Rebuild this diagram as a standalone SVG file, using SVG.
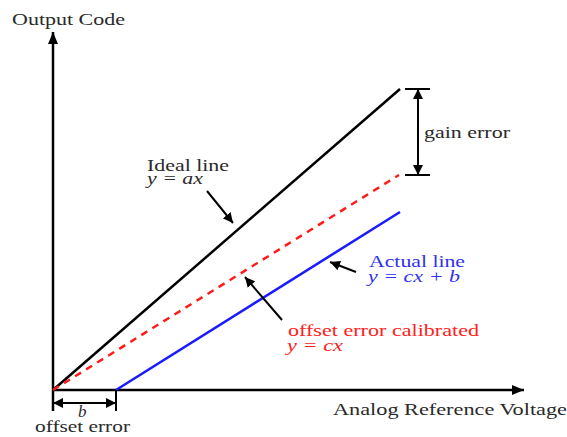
<svg xmlns="http://www.w3.org/2000/svg" width="567" height="437" viewBox="0 0 567 437">
<style>
text{font-family:"Liberation Serif","Times New Roman",serif;font-size:17px;fill:#2a2a2a}
.it{font-style:italic}
.blue{fill:#3030f0}
.red{fill:#ff2020}
.ln{fill:none;stroke:#000;stroke-width:2.5}
.thin{fill:none;stroke:#000;stroke-width:2}
</style>
<defs>
<marker id="ah" viewBox="0 0 10 10" refX="10" refY="5" markerWidth="10" markerHeight="10" markerUnits="userSpaceOnUse" orient="auto-start-reverse">
<path d="M0,0 L10,5 L0,10 Z" fill="#000"/>
</marker>
<marker id="ax" viewBox="0 0 12 10" refX="12" refY="5" markerWidth="12" markerHeight="10" markerUnits="userSpaceOnUse" orient="auto">
<path d="M0,0 L12,5 L0,10 Z" fill="#000"/>
</marker>
</defs>
<g id="connectors">
<line id="y-axis" class="ln" x1="53" y1="411" x2="53" y2="32" marker-end="url(#ax)"/>
<line id="x-axis" class="ln" x1="53" y1="390" x2="524" y2="390" marker-end="url(#ax)"/>
<line id="ideal" class="ln" x1="53" y1="390" x2="400" y2="89"/>
<line id="calibrated" fill="none" stroke="#ff1a1a" stroke-width="2.5" stroke-dasharray="7,6" x1="53" y1="390" x2="399" y2="175"/>
<line id="actual" fill="none" stroke="#1a1aff" stroke-width="2.5" x1="116" y1="390" x2="400" y2="212"/>
<line class="thin" x1="405" y1="89" x2="430" y2="89"/>
<line class="thin" x1="405" y1="175" x2="430" y2="175"/>
<line class="thin" x1="418" y1="89" x2="418" y2="175" marker-start="url(#ah)" marker-end="url(#ah)"/>
<line class="thin" x1="116" y1="390" x2="116" y2="411"/>
<line class="thin" x1="53" y1="403" x2="116" y2="403" marker-start="url(#ah)" marker-end="url(#ah)"/>
<line class="thin" x1="207" y1="191" x2="233" y2="223" marker-end="url(#ah)"/>
<line class="thin" x1="356" y1="272" x2="330" y2="262" marker-end="url(#ah)"/>
<line class="thin" x1="282" y1="320" x2="245" y2="277" marker-end="url(#ah)"/>
</g>
<g id="label-output-code"><text x="12" y="25" textLength="113" lengthAdjust="spacingAndGlyphs">Output Code</text></g>
<g id="label-ideal"><text x="147" y="171" textLength="82" lengthAdjust="spacingAndGlyphs">Ideal line</text>
<text class="it" x="147" y="184" textLength="56" lengthAdjust="spacingAndGlyphs">y = ax</text></g>
<g id="label-gain"><text x="424" y="138" textLength="86" lengthAdjust="spacingAndGlyphs">gain error</text></g>
<g id="label-actual"><text class="blue" x="369" y="267" textLength="96" lengthAdjust="spacingAndGlyphs">Actual line</text>
<text class="blue it" x="368" y="282" textLength="92" lengthAdjust="spacingAndGlyphs">y = cx + b</text></g>
<g id="label-calibrated"><text class="red" x="288" y="336" textLength="191" lengthAdjust="spacingAndGlyphs">offset error calibrated</text>
<text class="red it" x="287" y="351" textLength="56" lengthAdjust="spacingAndGlyphs">y = cx</text></g>
<g id="label-b"><text class="it" x="78" y="417">b</text></g>
<g id="label-offset"><text x="35" y="432" textLength="95" lengthAdjust="spacingAndGlyphs">offset error</text></g>
<g id="label-x"><text x="333" y="415" textLength="234" lengthAdjust="spacingAndGlyphs">Analog Reference Voltage</text></g>
</svg>
